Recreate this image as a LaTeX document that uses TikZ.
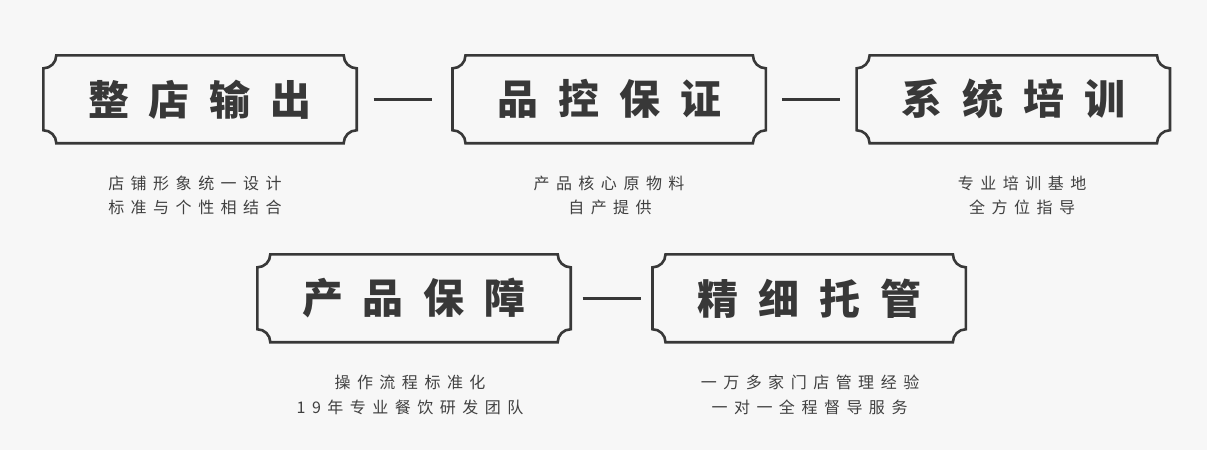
\documentclass[tikz,border=0pt]{standalone}
\usepackage{fontspec}
\newfontfamily\cjk{Noto Sans CJK SC}
\definecolor{bg}{HTML}{F7F7F7}
\definecolor{ink}{HTML}{383838}
\definecolor{sub}{HTML}{404040}
\makeatletter
\newcommand\spc[2]{\def\sp@sep{}\@tfor\sp@c:=#2\do{\sp@sep\sp@c\def\sp@sep{\hspace{#1}}}}
\makeatother
\newcommand\notchframe[1]{%
  \draw[frame] ([xshift=13pt]#1.north west) -- ([xshift=-13pt]#1.north east)
    arc[start angle=180,end angle=270,radius=13pt] -- ([yshift=13pt]#1.south east)
    arc[start angle=90,end angle=180,radius=13pt] -- ([xshift=13pt]#1.south west)
    arc[start angle=0,end angle=90,radius=13pt] -- ([yshift=-13pt]#1.north west)
    arc[start angle=270,end angle=360,radius=13pt] -- cycle;}
\newcommand\ttl[1]{\spc{20pt}{#1}\hspace{7pt}}
\begin{document}
\begin{tikzpicture}[x=1pt,y=1pt,
  titlebox/.style={minimum width=313pt,minimum height=87.5pt,inner sep=0pt,
    font=\cjk\bfseries\fontsize{41}{41}\selectfont,text=ink},
  frame/.style={draw=ink,line width=2.6pt,line join=miter},
  conn/.style={draw=ink,line width=3pt},
  subtxt/.style={inner sep=0pt,font=\cjk\fontsize{16}{16}\selectfont,text=sub}]
\useasboundingbox[fill=bg] (0,0) rectangle (1207,450);
% title boxes
\node[titlebox] (b1) at (200,350.7) {\ttl{整店输出}};
\node[titlebox] (b2) at (609.2,350.7) {\ttl{品控保证}};
\node[titlebox] (b3) at (1013.3,350.7) {\ttl{系统培训}};
\node[titlebox] (b4) at (414,151.7) {\ttl{产品保障}};
\node[titlebox] (b5) at (809.2,151.7) {\ttl{精细托管}};
\notchframe{b1}\notchframe{b2}\notchframe{b3}\notchframe{b4}\notchframe{b5}
% connectors
\draw[conn,shorten <=17pt,shorten >=20.5pt] (b1.east) -- (b2.west);
\draw[conn,shorten <=16pt,shorten >=16.5pt] (b2.east) -- (b3.west);
\draw[conn,shorten <=12pt,shorten >=11.5pt] (b4.east) -- (b5.west);
% subtitles
\node[subtxt] (s1a) at (195,266.5) {\spc{6.5pt}{店铺形象统一设计}};
\node[subtxt] (s1b) at (195,242.5) {\spc{6.5pt}{标准与个性相结合}};
\node[subtxt] (s2a) at (609,266.5) {\spc{6.5pt}{产品核心原物料}};
\node[subtxt] (s2b) at (610,242.5) {\spc{6.5pt}{自产提供}};
\node[subtxt] (s3a) at (1022,266.5) {\spc{6.5pt}{专业培训基地}};
\node[subtxt] (s3b) at (1022,242.5) {\spc{6.5pt}{全方位指导}};
\node[subtxt] (s4a) at (410,67.5) {\spc{6.5pt}{操作流程标准化}};
\node[subtxt] (s4b) at (410,42.5) {\spc{6.5pt}{19年专业餐饮研发团队}};
\node[subtxt] (s5a) at (810,67.5) {\spc{6.5pt}{一万多家门店管理经验}};
\node[subtxt] (s5b) at (809.5,42.5) {\spc{6.5pt}{一对一全程督导服务}};
\end{tikzpicture}
\end{document}
